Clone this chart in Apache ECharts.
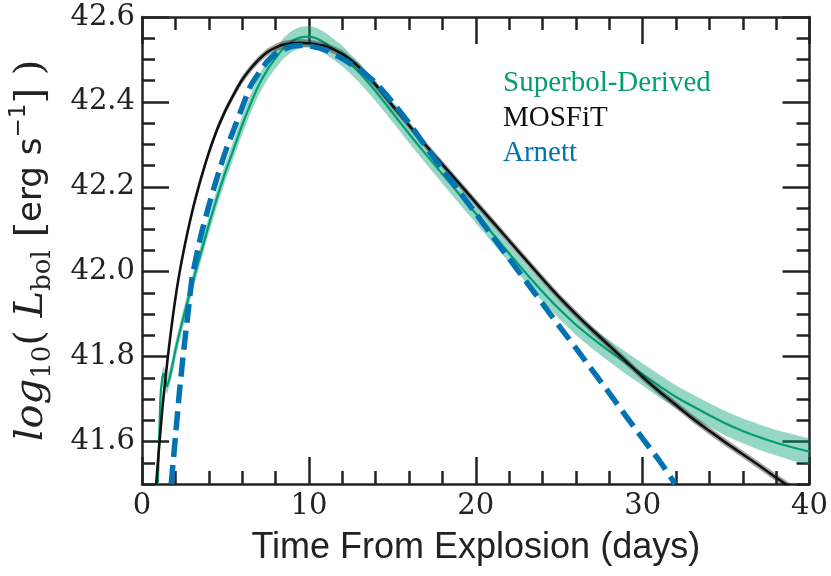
<!DOCTYPE html>
<html>
<head>
<meta charset="utf-8">
<title>Bolometric light curve</title>
<script src="https://cdn.jsdelivr.net/npm/echarts@6/dist/echarts.min.js"></script>
<style>
	html, body { margin: 0; padding: 0; background: #fff; }
	#chart { width: 831px; height: 576px; }
</style>
</head>
<body>
<div id="chart"></div>
<script>

// values (days, log10 L)
var superbolT = [0.95,1.1,1.2,1.3,1.5,1.8,2,2.5,3,3.5,4,4.5,5,5.5,6,6.5,7,7.5,8,8.5,9,9.5,10,10.5,11,12,13,14,15,16,17,18,19,20,21,22,23,24,25,26,27,28,29,30,31,32,33,34,35,36,37,38,39,40];
var superbolL = [41.50,41.70,41.745,41.76,41.73,41.775,41.815,41.895,41.97,42.04,42.11,42.175,42.235,42.29,42.345,42.395,42.44,42.475,42.503,42.527,42.543,42.552,42.554,42.549,42.538,42.508,42.47,42.425,42.375,42.325,42.277,42.23,42.183,42.137,42.09,42.043,41.997,41.953,41.912,41.875,41.843,41.813,41.785,41.758,41.731,41.705,41.683,41.662,41.642,41.625,41.61,41.597,41.586,41.576];
var superbolErr = [0.02,0.02,0.02,0.02,0.02,0.02,0.02,0.02,0.02,0.02,0.02,0.02,0.021,0.021,0.022,0.022,0.023,0.023,0.024,0.024,0.025,0.025,0.025,0.025,0.025,0.024,0.023,0.023,0.022,0.022,0.022,0.022,0.022,0.022,0.022,0.022,0.022,0.023,0.023,0.024,0.025,0.025,0.026,0.026,0.027,0.027,0.028,0.028,0.029,0.029,0.03,0.03,0.031,0.031];

var mosfitT = [0.85,1,1.25,1.55,1.85,2.15,2.5,3,3.5,4,4.5,5,5.5,6,6.5,7,7.5,8,8.5,9,9.5,10,11,12,13,14,15,16,17,18,19,20,21,22,23,24,25,26,27,28,29,30,31,32,33,34,35,36,37,38,39,40];
var mosfitL = [41.50,41.575,41.69,41.80,41.895,41.975,42.05,42.14,42.215,42.28,42.335,42.38,42.418,42.452,42.478,42.50,42.517,42.528,42.535,42.538,42.539,42.538,42.531,42.513,42.482,42.44,42.392,42.345,42.298,42.253,42.208,42.163,42.118,42.073,42.028,41.983,41.94,41.90,41.862,41.826,41.789,41.752,41.718,41.686,41.654,41.625,41.597,41.570,41.543,41.515,41.488,41.46];
var mosfitErr = 0.009;

var arnettT = [1.75,2,2.25,2.5,2.75,3,3.5,4,4.5,5,5.5,6,6.5,7,7.5,8,8.5,9,9.5,10,11,12,13,14,15,16,17,18,19,20,21,22,23,24,25,26,27,28,29,30,31,31.95];
var arnettL = [41.5,41.61,41.72,41.815,41.9,41.985,42.08,42.155,42.222,42.283,42.335,42.387,42.437,42.468,42.495,42.513,42.524,42.531,42.533,42.532,42.522,42.502,42.477,42.445,42.40,42.35,42.295,42.242,42.19,42.137,42.084,42.031,41.978,41.925,41.872,41.82,41.767,41.714,41.66,41.607,41.555,41.5];

var yMajorTicks = [41.6,41.8,42.0,42.2,42.4,42.6];

var GREEN = '#029e73';
var BLUE = '#0173b2';


function pairs(t, v) {
	return t.map(function(x, i) { return [x, v[i]]; });
}

// filled band between l-err and l+err, drawn through the axis scales
function bandSeries(t, l, err, color, z) {
	var e = function(i) { return typeof err === 'number' ? err : err[i]; };
	return {
		type: 'custom',
		silent: true,
		clip: true,
		z: z,
		data: [[t[0], l[0]]],
		renderItem: function(params, api) {
			var pts = [];
			for (var i = 0; i < t.length; i++) pts.push(api.coord([t[i], l[i] + e(i)]));
			for (var j = t.length - 1; j >= 0; j--) pts.push(api.coord([t[j], l[j] - e(j)]));
			return { type: 'polygon', shape: { points: pts }, style: { fill: color } };
		}
	};
}

function LightCurveChart(element)
{
	this.element = element;

	var tickFont = { fontFamily: 'DejaVu Serif', fontSize: 29, color: '#222' };

	var majorY = function(pos) {
		return {
			type: 'value', position: pos, min: 41.5, max: 42.6,
			axisLine: { show: true, lineStyle: { color: '#222', width: 2.5 } },
			axisTick: { show: true, inside: true, length: 27, customValues: yMajorTicks, lineStyle: { color: '#222', width: 2.5 } },
			axisLabel: pos === 'left' ? Object.assign({ show: true, margin: 7, customValues: yMajorTicks,
				formatter: function(v) { return v.toFixed(1); } }, tickFont) : { show: false },
			splitLine: { show: false }
		};
	};
	var minorY = function(pos) {
		return {
			type: 'value', position: pos, min: 41.5, max: 42.6, interval: 0.05,
			axisLine: { show: false },
			axisTick: { show: true, inside: true, length: 13, lineStyle: { color: '#222', width: 2.5 } },
			axisLabel: { show: false },
			splitLine: { show: false }
		};
	};
	var xAx = function(pos) {
		return {
			type: 'value', position: pos, min: 0, max: 40, interval: 10,
			axisLine: { show: true, lineStyle: { color: '#222', width: 2.5 } },
			axisTick: { show: true, inside: true, length: 27, lineStyle: { color: '#222', width: 2.5 } },
			minorTick: { show: true, splitNumber: 5, length: 13, lineStyle: { color: '#222', width: 2.5 } },
			axisLabel: pos === 'bottom' ? Object.assign({ show: true, margin: 8 }, tickFont) : { show: false },
			splitLine: { show: false }
		};
	};

	var xBottom = xAx('bottom');
	xBottom.name = 'Time From Explosion (days)';
	xBottom.nameLocation = 'middle';
	xBottom.nameGap = 46;
	xBottom.nameTextStyle = { fontFamily: 'Liberation Sans', fontSize: 36, color: '#222' };

	var yLeft = majorY('left');
	yLeft.name = '{it|log}{sub|10}{n|( }{it|L}{sub|bol}{n| [}{sf|erg s}{sup|\u22121}{n|] )}';
	yLeft.nameLocation = 'middle';
	yLeft.nameRotate = 90;
	yLeft.nameGap = 86;
	yLeft.nameTextStyle = {
		color: '#222',
		rich: {
			it: { fontFamily: 'DejaVu Serif', fontStyle: 'italic', fontSize: 40, lineHeight: 48, verticalAlign: 'middle', color: '#222' },
			n: { fontFamily: 'DejaVu Serif', fontSize: 40, lineHeight: 48, verticalAlign: 'middle', color: '#222' },
			sf: { fontFamily: 'DejaVu Sans', fontSize: 34, lineHeight: 48, verticalAlign: 'middle', color: '#222' },
			sub: { fontFamily: 'DejaVu Serif', fontSize: 26, lineHeight: 26, verticalAlign: 'bottom', color: '#222' },
			sup: { fontFamily: 'DejaVu Sans', fontSize: 23, lineHeight: 23, verticalAlign: 'top', color: '#222' }
		}
	};

	var lineBase = { type: 'line', showSymbol: false, symbol: 'none', smooth: 0.2, clip: true, silent: true };

	this.options = {
		animation: false,
		backgroundColor: '#fff',
		grid: { left: 139, right: 21, top: 17, bottom: 92 },
		legend: {
			orient: 'vertical', left: 493, top: 64, icon: 'none', itemWidth: 0, itemGap: 6,
			selectedMode: false,
			textStyle: { fontFamily: 'Liberation Serif', fontSize: 29, lineHeight: 29 },
			data: [
				{ name: 'Superbol-Derived', textStyle: { color: GREEN } },
				{ name: 'MOSFiT', textStyle: { color: '#111' } },
				{ name: 'Arnett', textStyle: { color: BLUE } }
			]
		},
		xAxis: [xBottom, xAx('top')],
		yAxis: [yLeft, minorY('left'), majorY('right'), minorY('right')],
		series: [
			bandSeries(superbolT, superbolL, superbolErr, 'rgba(2,158,115,0.42)', 1),
			Object.assign({}, lineBase, { name: 'Superbol-Derived', data: pairs(superbolT, superbolL), lineStyle: { color: GREEN, width: 2.2 }, itemStyle: { color: GREEN }, z: 2 }),
			bandSeries(mosfitT, mosfitL, mosfitErr, 'rgba(40,40,40,0.42)', 3),
			Object.assign({}, lineBase, { name: 'MOSFiT', data: pairs(mosfitT, mosfitL), lineStyle: { color: '#111', width: 2.6 }, itemStyle: { color: '#111' }, z: 4 }),
			Object.assign({}, lineBase, { name: 'Arnett', data: pairs(arnettT, arnettL), lineStyle: { color: BLUE, width: 5.5, type: [19, 8], cap: 'butt' }, itemStyle: { color: BLUE }, z: 5 })
		]
	};
}

LightCurveChart.prototype.run = function() {
	this.chart = echarts.init(this.element, null, { renderer: 'canvas' });
	this.chart.setOption(this.options, true);
};

new LightCurveChart(document.getElementById('chart')).run();

</script>
</body>
</html>
